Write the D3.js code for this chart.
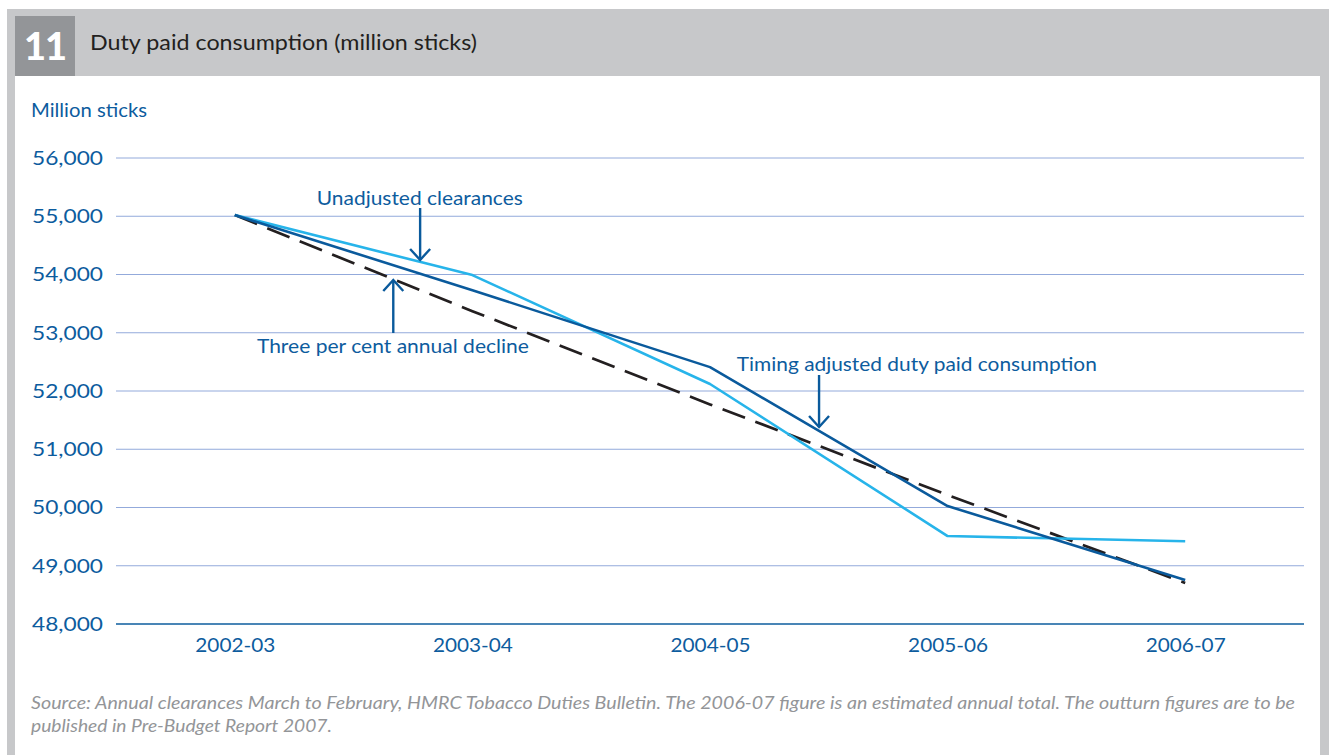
<!DOCTYPE html>
<html>
<head>
<meta charset="utf-8">
<script src="https://cdn.jsdelivr.net/npm/d3@7"></script>
<style>
  html, body { margin: 0; padding: 0; background: #ffffff; }
  svg { display: block; }
  text { font-family: "Lato", "Liberation Sans", sans-serif; }
</style>
</head>
<body>
<svg id="chart" width="1329" height="755"></svg>
<script>
// ---- Data ----
const categories = ["2002-03", "2003-04", "2004-05", "2005-06", "2006-07"];
const unadjustedClearances = [55020, 53990, 52120, 49510, 49420];
const timingAdjusted = [55020, 53730, 52410, 50025, 48755];
const threePerCentDecline = [55020, 53370, 51770, 50215, 48705];
const yTicks = [48000, 49000, 50000, 51000, 52000, 53000, 54000, 55000, 56000];

const chartNumber = "11";
const chartTitle = "Duty paid consumption (million sticks)";
const yAxisTitle = "Million sticks";
const sourceLines = [
  "Source: Annual clearances March to February, HMRC Tobacco Duties Bulletin. The 2006-07 figure is an estimated annual total. The outturn figures are to be",
  "published in Pre-Budget Report 2007."
];
// annotations: label, text anchor (category index, value), arrow (category index, from value, to value)
const annotations = [
  { label: "Unadjusted clearances", tx: 0.345, ty: 55193, tw: 206, ax: 0.78, from: 55142, to: 54250 },
  { label: "Three per cent annual decline", tx: 0.093, ty: 52652, tw: 272, ax: 0.667, from: 52996, to: 53905 },
  { label: "Timing adjusted duty paid consumption", tx: 2.113, ty: 52343, tw: 360, ax: 2.459, from: 52275, to: 51382 }
];

// ---- Styles ----
const C = {
  frame: "#c7c8ca",
  numBox: "#939598",
  title: "#231f20",
  blueText: "#0d5c9e",
  grid: "#93aadb",
  axis: "#0d5c9e",
  light: "#27b4ea",
  dark: "#0a5a9c",
  dash: "#231f20",
  source: "#939598"
};

const svg = d3.select("#chart");

// frame
svg.append("rect").attr("x", 7).attr("y", 9).attr("width", 1322).attr("height", 746).attr("fill", C.frame);
svg.append("rect").attr("x", 15).attr("y", 76).attr("width", 1305).attr("height", 679).attr("fill", "#ffffff");
svg.append("rect").attr("x", 15).attr("y", 16).attr("width", 60).attr("height", 60).attr("fill", C.numBox);
svg.append("g").selectAll("text").data(chartNumber.split("")).join("text")
  .attr("x", (d, i) => 35 + i * 21).attr("y", 60).attr("text-anchor", "middle")
  .attr("font-size", 38).attr("font-weight", "900").attr("fill", "#ffffff")
  .text(d => d);
svg.append("text").attr("x", 90).attr("y", 50).attr("font-size", 22).attr("fill", C.title)
  .attr("textLength", 387).attr("lengthAdjust", "spacingAndGlyphs").text(chartTitle);

// scales
const x = d3.scalePoint().domain(categories).range([116, 1304]).padding(0.5);
const y = d3.scaleLinear().domain([48000, 56000]).range([624, 158]);
const xi = i => x(categories[0]) + i * x.step();

// y title
svg.append("text").attr("x", 31).attr("y", 117).attr("font-size", 20).attr("fill", C.blueText)
  .attr("textLength", 116).attr("lengthAdjust", "spacingAndGlyphs").text(yAxisTitle);

// gridlines
svg.append("g").selectAll("line").data(yTicks.filter(d => d !== 48000)).join("line")
  .attr("x1", 116).attr("x2", 1304)
  .attr("y1", d => y(d)).attr("y2", d => y(d))
  .attr("stroke", C.grid).attr("stroke-width", 1);

// y axis
const yAxis = svg.append("g").attr("transform", "translate(116,0)")
  .call(d3.axisLeft(y).tickValues(yTicks).tickSize(0).tickPadding(13).tickFormat(d3.format(",")));
yAxis.select(".domain").remove();
yAxis.selectAll("text").attr("font-size", 20).attr("fill", C.blueText)
  .attr("font-family", "Lato, 'Liberation Sans', sans-serif")
  .attr("textLength", 71).attr("lengthAdjust", "spacingAndGlyphs");

// x axis
const xAxis = svg.append("g").attr("transform", `translate(0,${y(48000)})`)
  .call(d3.axisBottom(x).tickSize(0).tickPadding(14));
xAxis.select(".domain").attr("d", "M116,0H1304").attr("stroke", C.axis).attr("stroke-width", 1.6);
xAxis.selectAll("text").attr("font-size", 20).attr("fill", C.blueText)
  .attr("font-family", "Lato, 'Liberation Sans', sans-serif")
  .attr("textLength", 80).attr("lengthAdjust", "spacingAndGlyphs");

// lines
const line = d3.line().x((d, i) => x(categories[i])).y(d => y(d));
svg.append("path").datum(threePerCentDecline).attr("d", line)
  .attr("fill", "none").attr("stroke", C.dash).attr("stroke-width", 2.7)
  .attr("stroke-dasharray", "24,11");
svg.append("path").datum(unadjustedClearances).attr("d", line)
  .attr("fill", "none").attr("stroke", C.light).attr("stroke-width", 2.6).attr("stroke-linejoin", "round");
svg.append("path").datum(timingAdjusted).attr("d", line)
  .attr("fill", "none").attr("stroke", C.dark).attr("stroke-width", 2.6).attr("stroke-linejoin", "round");

// annotations
const ann = svg.append("g");
annotations.forEach(a => {
  ann.append("text").attr("x", xi(a.tx)).attr("y", y(a.ty)).attr("font-size", 20).attr("fill", C.blueText)
    .attr("textLength", a.tw).attr("lengthAdjust", "spacingAndGlyphs").text(a.label);
  const ax = xi(a.ax), y0 = y(a.from), y1 = y(a.to);
  const dir = y1 > y0 ? 1 : -1;
  ann.append("line").attr("x1", ax).attr("x2", ax).attr("y1", y0).attr("y2", y1)
    .attr("stroke", C.dark).attr("stroke-width", 2.4);
  ann.append("path")
    .attr("d", `M${ax - 10},${y1 - dir * 11}L${ax},${y1}L${ax + 10},${y1 - dir * 11}`)
    .attr("fill", "none").attr("stroke", C.dark).attr("stroke-width", 2.4);
});

// source
svg.append("g").selectAll("text").data(sourceLines).join("text")
  .attr("x", 31).attr("y", (d, i) => 709 + i * 23)
  .attr("font-size", 16.5).attr("font-style", "italic").attr("fill", C.source)
  .attr("textLength", (d, i) => i === 0 ? 1264 : 301).attr("lengthAdjust", "spacingAndGlyphs")
  .text(d => d);
</script>
</body>
</html>
